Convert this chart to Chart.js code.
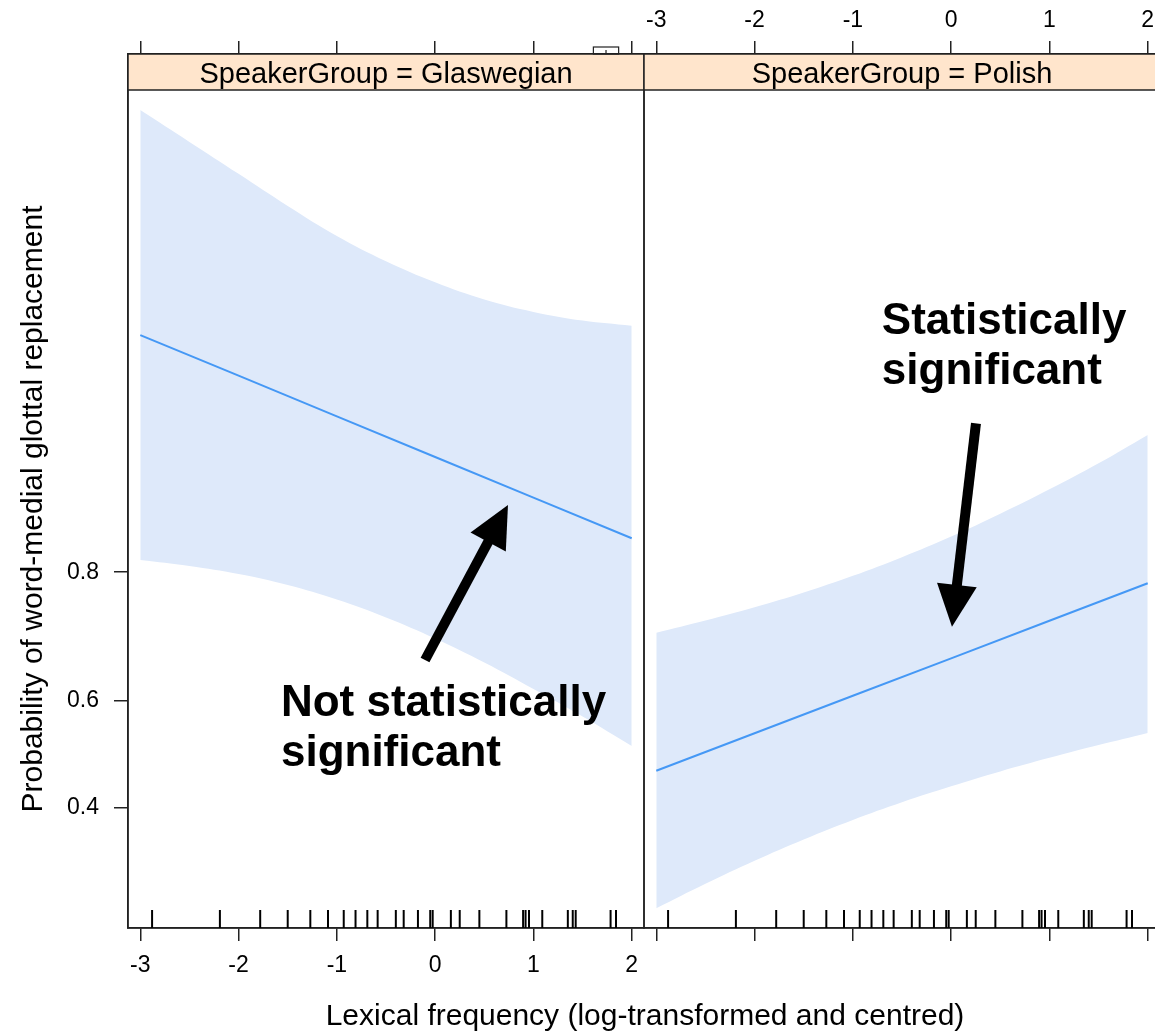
<!DOCTYPE html>
<html>
<head>
<meta charset="utf-8">
<script src="https://cdn.jsdelivr.net/npm/chart.js@4.4.1/dist/chart.umd.min.js"></script>
<style>
  html, body { margin: 0; padding: 0; background: #fff; overflow: hidden; width: 1155px; height: 1031px; }
  #left  { position: absolute; left: 0; top: 0; }
  #right { position: absolute; left: 643px; top: 0; }
  #xtitle {
    position: absolute; left: 0; top: 998px; width: 1290px;
    text-align: center; line-height: 1; color: #000;
    font: 30px "Liberation Sans", Arial, sans-serif;
  }
</style>
</head>
<body>
<canvas id="left" width="645" height="1031"></canvas>
<canvas id="right" width="518" height="1031"></canvas>
<div id="xtitle">Lexical frequency (log-transformed and centred)</div>
<script>
// axis ticks
const xTicks      = [-3, -2, -1, 0, 1, 2];
const yTickProbs  = [0.4, 0.6, 0.8];
const yTickLabels = ['0.4', '0.6', '0.8'];

const freqGrid = [-3, -2.5, -2, -1.5, -1, -0.5, 0, 0.5, 1, 1.5, 2];
const fitFreq  = [-3, -2, -1, 0, 1, 2];

// Glaswegian panel (probabilities)
const glasUpper = [0.99267, 0.99068, 0.98814, 0.98490, 0.98108, 0.97716, 0.97329, 0.96966, 0.96676, 0.96458, 0.96320];
const glasLower = [0.8145, 0.8075, 0.7978, 0.7840, 0.7646, 0.7391, 0.7070, 0.6678, 0.6216, 0.5712, 0.5154];
const glasFit   = [0.9606, 0.9471, 0.9292, 0.9059, 0.8760, 0.8382];

// Polish panel (probabilities)
const polUpper = [0.7161, 0.7346, 0.7538, 0.7740, 0.7955, 0.8177, 0.8400, 0.8620, 0.8827, 0.9017, 0.9193];
const polLower = [0.2359, 0.2712, 0.3072, 0.3428, 0.3770, 0.4092, 0.4389, 0.4669, 0.4928, 0.5171, 0.5401];
const polFit   = [0.4683, 0.5397, 0.6094, 0.6748, 0.7342, 0.7862];

// rug of observed lexical frequencies
const rugFreq = [-2.88, -2.19, -1.78, -1.50, -1.27, -1.09, -0.93, -0.81, -0.69, -0.585,
                 -0.40, -0.32, -0.175, -0.05, -0.025, 0.16, 0.25, 0.45, 0.725, 0.895,
                 0.92, 0.955, 1.09, 1.35, 1.40, 1.43, 1.785, 1.84];

const stripLabels = ['SpeakerGroup = Glaswegian', 'SpeakerGroup = Polish'];
const yTitle = 'Probability of word-medial glottal replacement';

const logit = p => Math.log(p / (1 - p));
const FONT = '"Liberation Sans", Arial, sans-serif';
const AXIS = '#222';
const STRIP_H = 36;

function drawArrow(ctx, x0, y0, x1, y1) {
  const ang = Math.atan2(y1 - y0, x1 - x0);
  const headLen = 42, headHalf = 20;
  const bx = x1 - headLen * Math.cos(ang);
  const by = y1 - headLen * Math.sin(ang);
  ctx.lineWidth = 10;
  ctx.lineCap = 'butt';
  ctx.beginPath();
  ctx.moveTo(x0, y0);
  ctx.lineTo(bx + 2 * Math.cos(ang), by + 2 * Math.sin(ang));
  ctx.stroke();
  ctx.beginPath();
  ctx.moveTo(x1, y1);
  ctx.lineTo(bx + headHalf * Math.sin(ang), by - headHalf * Math.cos(ang));
  ctx.lineTo(bx - headHalf * Math.sin(ang), by + headHalf * Math.cos(ang));
  ctx.closePath();
  ctx.fill();
}

const panelPlugin = {
  id: 'panel',
  afterDraw(chart, args, opts) {
    const { ctx, chartArea: a } = chart;
    const xs = chart.scales.x, ys = chart.scales.y;
    ctx.save();

    // strip
    ctx.fillStyle = '#ffe5cc';
    ctx.fillRect(a.left, a.top, a.right - a.left, STRIP_H);
    ctx.strokeStyle = AXIS;
    ctx.lineWidth = 1.5;
    ctx.beginPath();
    ctx.moveTo(a.left, a.top + STRIP_H);
    ctx.lineTo(a.right, a.top + STRIP_H);
    ctx.stroke();
    ctx.strokeRect(a.left, a.top, a.right - a.left, a.bottom - a.top);
    ctx.fillStyle = '#000';
    ctx.font = `29px ${FONT}`;
    ctx.textAlign = 'center';
    ctx.textBaseline = 'alphabetic';
    ctx.fillText(opts.strip, (a.left + a.right) / 2, a.top + 29);

    // small box left over at the top edge
    if (opts.marker) {
      const m0 = xs.getPixelForValue(opts.marker[0]);
      const m1 = xs.getPixelForValue(opts.marker[1]);
      ctx.lineWidth = 1.2;
      ctx.strokeRect(m0, a.top - 7, m1 - m0, 7);
      ctx.beginPath();
      ctx.moveTo((m0 + m1) / 2, a.top - 4);
      ctx.lineTo((m0 + m1) / 2, a.top);
      ctx.stroke();
    }

    // rug
    ctx.strokeStyle = '#000';
    ctx.lineWidth = 2;
    rugFreq.forEach(v => {
      const px = xs.getPixelForValue(v);
      ctx.beginPath();
      ctx.moveTo(px, a.bottom - 18);
      ctx.lineTo(px, a.bottom);
      ctx.stroke();
    });

    // y axis title
    if (opts.yTitle) {
      ctx.save();
      ctx.translate(42, (a.top + STRIP_H + a.bottom) / 2);
      ctx.rotate(-Math.PI / 2);
      ctx.font = `30px ${FONT}`;
      ctx.textAlign = 'center';
      ctx.textBaseline = 'alphabetic';
      ctx.fillText(opts.yTitle, 0, 0);
      ctx.restore();
    }

    // annotation
    const n = opts.note;
    ctx.font = `bold 44px ${FONT}`;
    ctx.textAlign = 'left';
    ctx.textBaseline = 'alphabetic';
    const tx = xs.getPixelForValue(n.x), ty = ys.getPixelForValue(logit(n.p));
    n.lines.forEach((line, k) => ctx.fillText(line, tx, ty + k * 50));
    ctx.fillStyle = '#000';
    ctx.strokeStyle = '#000';
    drawArrow(ctx,
      xs.getPixelForValue(n.from[0]), ys.getPixelForValue(logit(n.from[1])),
      xs.getPixelForValue(n.to[0]),   ys.getPixelForValue(logit(n.to[1])));

    ctx.restore();
  }
};

function xAxis(position, showLabels, height, padding) {
  return {
    type: 'linear',
    axis: 'x',
    position,
    min: -3.125,
    max: 2.125,
    afterBuildTicks: s => { s.ticks = xTicks.map(v => ({ value: v })); },
    afterFit: s => {
      s.height = height;
      // keep edge labels from shrinking the panel
      s.paddingLeft = 0;
      s.paddingRight = 0;
    },
    ticks: {
      color: '#000',
      font: { family: FONT, size: 23 },
      padding,
      maxRotation: 0,
      autoSkip: false,
      callback: v => showLabels ? String(v) : '',
    },
    grid: { drawOnChartArea: false, tickLength: 13, color: AXIS, lineWidth: 1.5 },
    border: { color: AXIS, width: 1.5 },
  };
}

function buildPanel(canvasId, upper, lower, fit, cfg) {
  const pts = (xs, ps) => xs.map((x, k) => ({ x, y: logit(ps[k]) }));
  return new Chart(document.getElementById(canvasId), {
    type: 'line',
    data: {
      datasets: [
        {
          // fitted line, listed first so it is drawn on top of the band
          data: pts(fitFreq, fit),
          borderColor: '#4598f5',
          borderWidth: 2,
          pointRadius: 0,
          fill: false,
        },
        {
          data: pts(freqGrid, upper),
          borderWidth: 0,
          pointRadius: 0,
          backgroundColor: 'rgb(222,233,250)',
          fill: '+1',
          tension: 0.4,
        },
        {
          data: pts(freqGrid, lower),
          borderWidth: 0,
          pointRadius: 0,
          fill: false,
          tension: 0.4,
        },
      ],
    },
    options: {
      responsive: false,
      animation: false,
      devicePixelRatio: 1,
      layout: { padding: cfg.padding, autoPadding: false },
      plugins: {
        legend: { display: false },
        tooltip: { enabled: false },
        panel: cfg.panel,
      },
      scales: {
        x: xAxis('bottom', cfg.bottomLabels, 103, 11),
        xTop: xAxis('top', !cfg.bottomLabels, 54, 7),
        y: {
          type: 'linear',
          display: cfg.showY,
          min: -1.3255,
          max: 5.336,
          afterBuildTicks: s => { s.ticks = yTickProbs.map(p => ({ value: logit(p) })); },
          afterFit: s => { s.width = cfg.showY ? 128 : 0; },
          ticks: {
            color: '#000',
            font: { family: FONT, size: 23 },
            padding: 15,
            callback: (v, i) => yTickLabels[i],
          },
          grid: { drawOnChartArea: false, tickLength: 14, color: AXIS, lineWidth: 1.5 },
          border: { color: AXIS, width: 1.5 },
        },
      },
    },
    plugins: [panelPlugin],
  });
}

buildPanel('left', glasUpper, glasLower, glasFit, {
  showY: true,
  bottomLabels: true,
  padding: { left: 0, right: 1, top: 0, bottom: 0 },
  panel: {
    strip: stripLabels[0],
    yTitle,
    marker: [1.61, 1.867],
    note: {
      lines: ['Not statistically', 'significant'],
      x: -1.569, p: 0.572,
      from: [-0.103, 0.672],
      to: [0.741, 0.8698],
    },
  },
});

buildPanel('right', polUpper, polLower, polFit, {
  showY: false,
  bottomLabels: false,
  padding: { left: 1, right: 1, top: 0, bottom: 0 },
  panel: {
    strip: stripLabels[1],
    note: {
      lines: ['Statistically', 'significant'],
      x: -0.705, p: 0.9609,
      from: [0.2526, 0.9256],
      to: [0.0084, 0.7253],
    },
  },
});
</script>
</body>
</html>
